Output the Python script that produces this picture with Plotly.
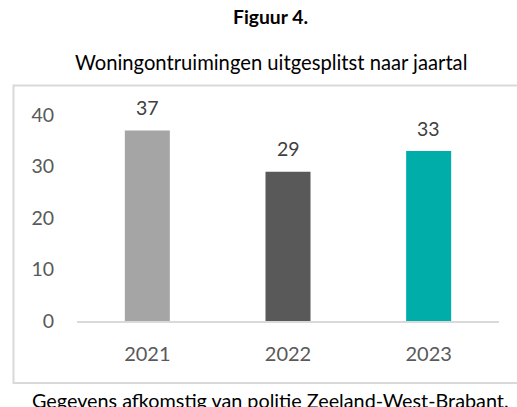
import plotly.graph_objects as go

years = ["2021", "2022", "2023"]
counts = [37, 29, 33]
bar_colors = ["#A5A5A5", "#595959", "#00ADA8"]
y_ticks = [0, 10, 20, 30, 40]

W, H = 517, 407
OFF = 0  # body margin removed via post_script
FONT = "Lato"


def px(x):
    return (x - OFF) / W


def py(y):
    return 1 - (y - OFF) / H


fig = go.Figure()
fig.add_trace(go.Bar(
    x=years, y=counts, marker=dict(color=bar_colors, line=dict(width=0)),
    width=0.32, hoverinfo="skip", showlegend=False,
))

for i, v in enumerate(counts):
    fig.add_annotation(x=i, y=v, xref="x", yref="y", text=str(v), showarrow=False,
                       yanchor="middle", yshift=23,
                       font=dict(family=FONT, size=19.5, color="#404040"))

fig.add_annotation(x=px(270.5), y=py(17), xref="paper", yref="paper", text="<b>Figuur 4.</b>",
                   showarrow=False, xanchor="center", yanchor="middle",
                   font=dict(family=FONT, size=19.3, color="#000000"))
fig.add_annotation(x=px(270.5), y=py(62), xref="paper", yref="paper",
                   text="Woningontruimingen uitgesplitst naar jaartal",
                   showarrow=False, xanchor="center", yanchor="middle",
                   font=dict(family=FONT, size=20.2, color="#000000"))
fig.add_annotation(x=px(270), y=py(400), xref="paper", yref="paper",
                   text="Gegevens afkomstig van politie Zeeland-West-Brabant.",
                   showarrow=False, xanchor="center", yanchor="middle",
                   font=dict(family=FONT, size=19.8, color="#000000"))

fig.add_shape(type="rect", xref="paper", yref="paper",
              x0=px(13.5), x1=1.05, y0=py(383), y1=py(85.5),
              line=dict(color="#D9D9D9", width=2), fillcolor="rgba(0,0,0,0)", layer="below")

fig.update_layout(
    template="none",
    width=W, height=H, margin=dict(l=0, r=0, t=0, b=0, autoexpand=False),
    paper_bgcolor="white", plot_bgcolor="white",
    xaxis=dict(type="category", domain=[px(77), px(499)], range=[-0.5, 2.5], showgrid=False,
               zeroline=False, automargin=False,
               showline=True, linecolor="#D9D9D9", linewidth=1.5, ticks="",
               tickfont=dict(family=FONT, size=20, color="#595959"), ticklabelstandoff=14),
    yaxis=dict(domain=[py(321), py(115)], range=[0, 40], tickvals=y_ticks,
               showgrid=False, zeroline=False, showline=False, ticks="", automargin=False,
               tickfont=dict(family=FONT, size=19.5, color="#595959"), ticklabelstandoff=22),
    bargap=0.68,
)

fig.write_html("out.html", config={"displayModeBar": False, "staticPlot": True},
               post_script="document.body.style.margin='0';document.body.style.overflow='hidden';")
